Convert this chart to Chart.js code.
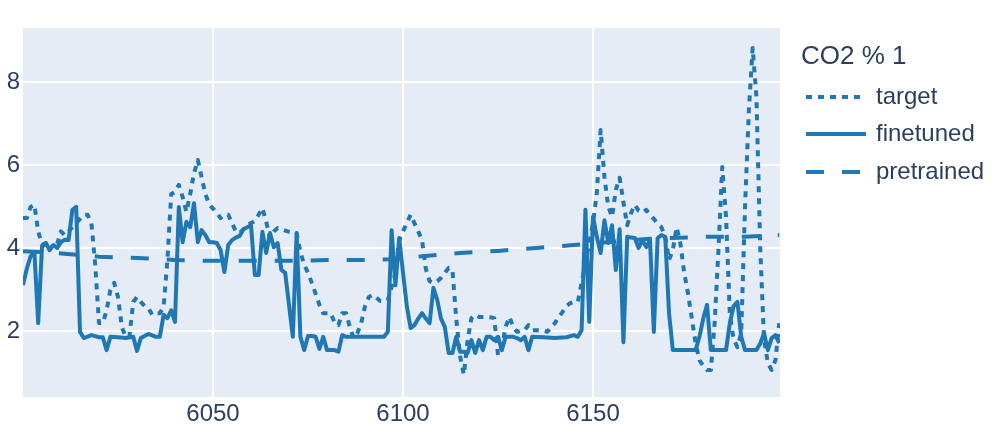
<!DOCTYPE html>
<html><head><meta charset="utf-8">
<script src="https://cdn.jsdelivr.net/npm/chart.js@4.4.1/dist/chart.umd.min.js"></script>
<style>html,body{margin:0;padding:0;background:#fff}#wrap{width:995px;height:430px;position:relative}</style>
</head><body><div id="wrap"><canvas id="c" width="995" height="430"></canvas></div>
<script>
const legendTitle = "CO2 % 1";
const seriesNames = ["target", "finetuned", "pretrained"];
const xTickValues = [6050, 6100, 6150];
const xTickLabels = ["6050", "6100", "6150"];
const yTickValues = [2, 4, 6, 8];
const yTickLabels = ["2", "4", "6", "8"];

const targetX = [6000,6001,6002,6003,6004,6005,6006,6007,6008,6009,6010,6011,6012,6013,6014,6015,6016,6017,6018,6019,
6020,6021,6022,6023,6024,6025,6026,6027,6028,6029,6030,6031,6032,6033,6034,6035,6036,6037,6038,6039,
6040,6041,6042,6043,6044,6045,6046,6047,6048,6049,6050,6051,6052,6053,6054,6055,6056,6057,6058,6059,
6060,6061,6062,6063,6064,6065,6066,6067,6068,6069,6070,6071,6072,6073,6074,6075,6076,6077,6078,6079,
6080,6081,6082,6083,6084,6085,6086,6087,6088,6089,6090,6091,6092,6093,6094,6095,6096,6097,6098,6099,
6100,6101,6102,6103,6104,6105,6106,6107,6108,6109,6110,6111,6112,6113,6114,6115,6116,6117,6118,6119,
6120,6121,6122,6123,6124,6125,6126,6127,6128,6129,6130,6131,6132,6133,6134,6135,6136,6137,6138,6139,
6140,6141,6142,6143,6144,6145,6146,6147,6148,6149,6150,6151,6152,6153,6154,6155,6156,6157,6158,6159,
6160,6161,6162,6163,6164,6165,6166,6167,6168,6169,6170,6171,6172,6173,6174,6175,6176,6177,6178,6179,
6180,6181,6182,6183,6184,6185,6186,6187,6188,6189,6190,6191,6192,6193,6194,6195,6196,6197,6198,6199];
const targetY = [4.72,4.72,4.99,5.04,4.4,4.07,4.12,3.95,4.1,4.1,4.4,4.31,4.4,4.5,4.6,4.7,4.8,4.8,4.6,3.6,
2.19,2.19,2.5,2.99,3.16,2.82,2.1,1.86,1.86,2.7,2.82,2.7,2.6,2.55,2.39,2.43,2.43,2.58,3.71,5.3,
5.35,5.52,5.23,4.87,5.3,5.8,6.12,5.7,5.3,5.05,4.95,4.85,4.72,4.8,4.8,4.6,4.4,4.36,4.45,4.55,
4.6,4.65,4.8,4.96,4.63,4.24,4.4,4.48,4.45,4.42,4.39,4.37,4.36,3.9,3.6,3.4,3.16,2.9,2.63,2.43,
2.43,2.43,2.2,2.14,2.43,2.43,2.1,1.83,1.95,2.19,2.6,2.82,2.87,2.8,2.72,2.7,2.75,3.06,3.4,4.19,
4.4,4.6,4.8,4.6,4.4,4.19,3.5,3.2,3.16,3.2,3.28,3.4,3.52,3.47,2.3,1.4,0.95,1.78,2.31,2.39,
2.34,2.34,2.34,2.33,2.31,1.42,1.61,2.1,2.34,2.1,1.98,2.0,2.02,2.14,2.02,2.02,2.02,2.0,1.98,2.1,
2.19,2.35,2.46,2.6,2.67,2.7,2.7,3.16,3.64,4.12,4.6,5.33,6.84,5.71,5.0,4.75,5.4,5.69,5.1,4.55,
4.84,5.04,4.9,4.85,4.92,4.8,4.7,4.6,4.5,4.27,3.71,3.95,4.5,4.1,3.4,2.9,2.3,1.7,1.3,1.15,
1.06,1.06,2.19,3.95,5.95,4.75,2.4,1.8,1.61,1.95,5.0,7.3,8.82,7.64,4.0,1.8,1.23,1.06,1.3,2.19];

const finetunedX = [6000,6001,6002,6003,6004,6005,6006,6007,6008,6009,6010,6011,6012,6013,6014,6015,6016,6018,6020,6021,
6022,6023,6025,6027,6029,6030,6031,6033,6035,6036,6037,6038,6039,6040,6041,6042,6043,6044,6045,6046,
6047,6048,6049,6050,6051,6052,6053,6054,6055,6056,6057,6058,6059,6060,6061,6062,6063,6064,6065,6066,
6067,6068,6069,6071,6072,6073,6074,6075,6076,6077,6078,6079,6080,6081,6082,6083,6084,6085,6090,6095,
6096,6097,6098,6099,6100,6101,6102,6103,6104,6105,6106,6107,6108,6109,6110,6111,6112,6113,6114,6115,
6116,6117,6118,6119,6120,6121,6122,6123,6124,6125,6126,6127,6128,6129,6130,6131,6132,6133,6134,6137,
6140,6143,6145,6146,6147,6148,6149,6150,6151,6152,6153,6154,6155,6156,6157,6158,6159,6160,6161,6162,
6163,6164,6165,6166,6167,6168,6169,6170,6171,6174,6177,6178,6179,6180,6181,6183,6185,6186,6187,6188,
6189,6190,6192,6193,6194,6195,6196,6197,6198,6199];
const finetunedY = [3.11,3.5,3.8,3.9,2.19,4.02,4.12,3.95,4.07,4.0,4.14,4.2,4.19,4.92,4.99,1.98,1.83,1.9,1.85,1.85,
1.54,1.86,1.85,1.83,1.86,1.52,1.83,1.93,1.86,1.86,2.39,2.31,2.5,2.22,4.99,4.14,4.63,4.5,5.08,4.14,
4.43,4.31,4.14,4.14,4.12,3.95,3.42,4.07,4.19,4.25,4.29,4.45,4.5,4.55,3.35,3.35,4.39,3.88,4.36,4.02,
4.12,3.47,3.4,1.86,4.36,1.86,1.54,1.88,1.88,1.86,1.57,1.86,1.54,1.54,1.54,1.5,1.9,1.86,1.86,1.86,
1.98,4.43,3.1,4.24,3.4,2.6,2.07,2.14,2.3,2.43,2.3,2.19,3.04,2.75,2.3,2.1,1.47,1.47,1.86,1.5,
1.5,1.47,1.78,1.47,1.78,1.54,1.86,1.86,1.78,1.86,1.54,1.86,1.86,1.86,1.83,1.78,1.86,1.54,1.86,1.85,
1.83,1.85,1.9,1.86,2.02,4.92,2.22,4.75,4.27,3.88,4.67,4.12,4.55,3.47,4.45,1.73,4.27,4.25,4.24,4.0,
4.19,4.02,4.19,1.98,4.24,4.31,4.27,2.43,1.54,1.54,1.54,1.86,2.3,2.63,1.54,1.54,1.54,2.19,2.6,2.7,
1.86,1.54,1.54,1.54,1.7,1.95,1.54,1.83,1.9,1.71];

const pretrainedX = [6000,6005,6010,6020,6030,6040,6050,6060,6070,6080,6090,6097,6105,6115,6125,6135,6145,6155,6165,6170,6180,6190,6199];
const pretrainedY = [3.92,3.9,3.87,3.79,3.76,3.71,3.69,3.69,3.69,3.71,3.71,3.73,3.8,3.88,3.93,4.0,4.07,4.15,4.22,4.24,4.27,4.27,4.31];

const FONT = "'Liberation Sans', Arial, sans-serif";
const TEXT = "#2a3f5f";
const LINE = "#1f77b4";

function pts(xs, ys) { return xs.map((x, i) => ({ x: x, y: ys[i] })); }

const bgPlugin = {
  id: 'plotbg',
  beforeDraw(chart) {
    const { ctx, chartArea: a } = chart;
    ctx.save();
    ctx.fillStyle = '#E5ECF6';
    ctx.fillRect(a.left, a.top, a.right - a.left, a.bottom - a.top);
    ctx.restore();
  }
};

const legendPlugin = {
  id: 'customLegend',
  afterDraw(chart) {
    const ctx = chart.ctx;
    ctx.save();
    ctx.fillStyle = TEXT;
    ctx.textBaseline = 'middle';
    ctx.textAlign = 'left';
    ctx.font = "26px " + FONT;
    ctx.fillText(legendTitle, 801, 57);
    const ys = [97, 134, 172];
    chart.data.datasets.forEach((ds, i) => {
      ctx.beginPath();
      ctx.strokeStyle = ds.borderColor;
      ctx.lineWidth = ds.borderWidth;
      ctx.setLineDash(ds.borderDash || []);
      ctx.moveTo(806, ys[i]);
      ctx.lineTo(866, ys[i]);
      ctx.stroke();
      ctx.setLineDash([]);
      ctx.font = "24px " + FONT;
      ctx.fillText(ds.label, 876, ys[i]);
    });
    ctx.restore();
  }
};

new Chart(document.getElementById('c'), {
  type: 'line',
  data: {
    datasets: [
      { label: seriesNames[0], data: pts(targetX, targetY), borderColor: LINE, borderWidth: 4, borderDash: [6, 6], order: 2 },
      { label: seriesNames[1], data: pts(finetunedX, finetunedY), borderColor: LINE, borderWidth: 4, order: 1 },
      { label: seriesNames[2], data: pts(pretrainedX, pretrainedY), borderColor: LINE, borderWidth: 4, borderDash: [18, 18], order: 0 }
    ]
  },
  options: {
    responsive: false,
    animation: false,
    devicePixelRatio: 1,
    layout: { padding: { left: 0, right: 215, top: 28, bottom: 0 } },
    elements: { point: { radius: 0 }, line: { tension: 0, borderJoinStyle: 'round', fill: false } },
    plugins: { legend: { display: false }, tooltip: { enabled: false } },
    scales: {
      x: {
        type: 'linear', min: 6000, max: 6199.2,
        grid: { color: '#ffffff', lineWidth: 2, drawTicks: false },
        border: { display: false },
        afterBuildTicks: s => { s.ticks = xTickValues.map(v => ({ value: v })); },
        afterFit: s => { s.height = 33; },
        ticks: { color: TEXT, font: { family: FONT, size: 24 }, padding: 3, maxRotation: 0, autoSkip: false,
          callback: (v) => xTickLabels[xTickValues.indexOf(v)] }
      },
      y: {
        type: 'linear', min: 0.41, max: 9.3,
        grid: { color: '#ffffff', lineWidth: 2, drawTicks: false },
        border: { display: false },
        afterBuildTicks: s => { s.ticks = yTickValues.map(v => ({ value: v })); },
        afterFit: s => { s.width = 23; },
        ticks: { color: TEXT, font: { family: FONT, size: 24 }, padding: 3, autoSkip: false,
          callback: (v) => yTickLabels[yTickValues.indexOf(v)] }
      }
    }
  },
  plugins: [bgPlugin, legendPlugin]
});
</script></body></html>
